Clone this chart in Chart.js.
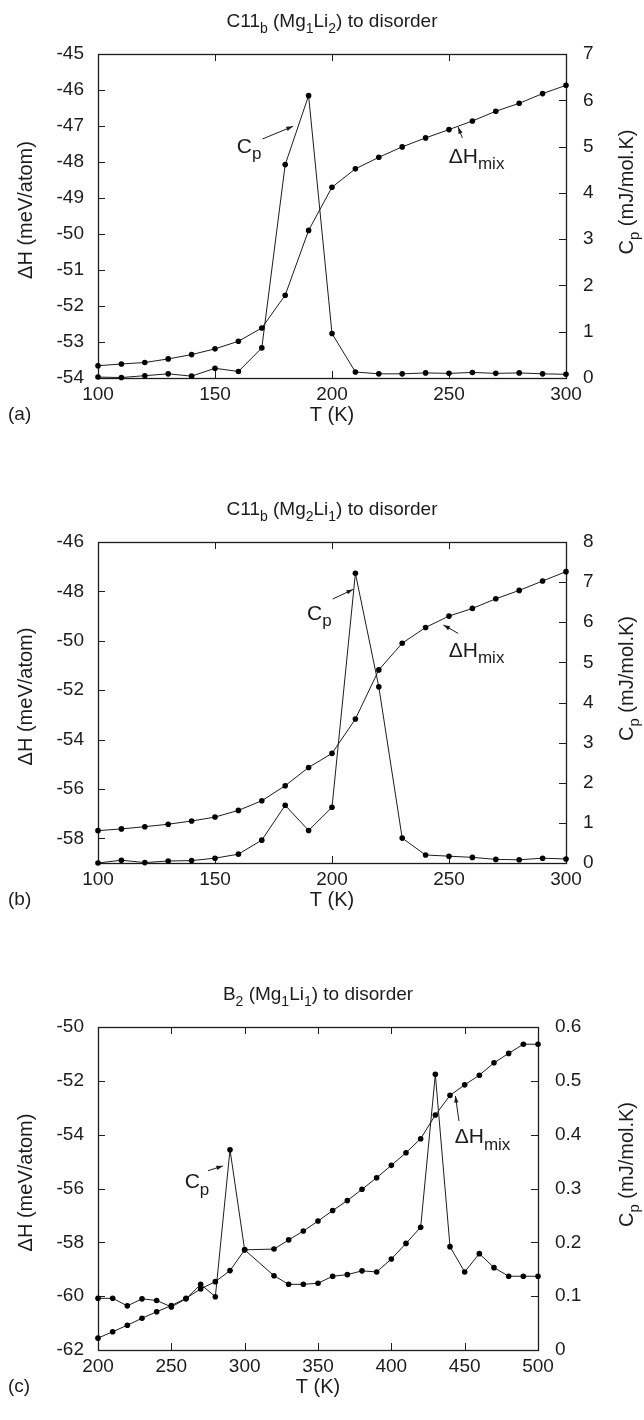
<!DOCTYPE html>
<html><head><meta charset="utf-8">
<script src="https://cdn.jsdelivr.net/npm/chart.js@4.4.0/dist/chart.umd.min.js"></script>
<style>
html,body{margin:0;padding:0;background:#fff;}
canvas{display:block;}
</style></head><body>
<canvas id="ca" width="644" height="470" style="width:644px;height:470px"></canvas>
<canvas id="cb" width="644" height="485" style="width:644px;height:485px"></canvas>
<canvas id="cc" width="644" height="465" style="width:644px;height:465px"></canvas>
<script>
// ---------- Panel (a): C11b (Mg1Li2) ----------
const tempA = [100,110,120,130,140,150,160,170,180,190,200,210,220,230,240,250,260,270,280,290,300];
const dHA = [-53.66,-53.61,-53.57,-53.47,-53.35,-53.19,-52.98,-52.61,-51.70,-49.90,-48.70,-48.19,-47.87,-47.58,-47.33,-47.10,-46.86,-46.59,-46.37,-46.10,-45.87];
const cpA = [0.02,0.01,0.05,0.09,0.04,0.21,0.14,0.65,4.61,6.10,0.96,0.13,0.09,0.09,0.11,0.10,0.12,0.10,0.11,0.09,0.08];
const xTicksA = [100,150,200,250,300];
const leftTicksA = [-54,-53,-52,-51,-50,-49,-48,-47,-46,-45];
const rightTicksA = [0,1,2,3,4,5,6,7];

// ---------- Panel (b): C11b (Mg2Li1) ----------
const tempB = [100,110,120,130,140,150,160,170,180,190,200,210,220,230,240,250,260,270,280,290,300];
const dHB = [-57.69,-57.62,-57.53,-57.43,-57.30,-57.14,-56.87,-56.48,-55.87,-55.13,-54.56,-53.17,-51.18,-50.10,-49.46,-49.00,-48.69,-48.30,-47.96,-47.58,-47.20];
const cpB = [0.00,0.07,0.01,0.05,0.06,0.12,0.22,0.57,1.44,0.81,1.39,7.22,4.39,0.62,0.20,0.17,0.14,0.09,0.08,0.12,0.10];
const xTicksB = [100,150,200,250,300];
const leftTicksB = [-58,-56,-54,-52,-50,-48,-46];
const rightTicksB = [0,1,2,3,4,5,6,7,8];

// ---------- Panel (c): B2 (Mg1Li1) ----------
const tempC = [200,210,220,230,240,250,260,270,280,290,300,320,330,340,350,360,370,380,390,400,410,420,430,440,450,460,470,480,490,500];
const dHC = [-61.56,-61.32,-61.08,-60.82,-60.58,-60.35,-60.08,-59.73,-59.46,-59.05,-58.28,-58.25,-57.91,-57.58,-57.21,-56.82,-56.45,-56.03,-55.60,-55.14,-54.67,-54.15,-53.27,-52.54,-52.15,-51.79,-51.33,-50.98,-50.64,-50.64];
const cpC = [0.096,0.096,0.082,0.095,0.092,0.080,0.095,0.122,0.099,0.372,0.186,0.138,0.122,0.122,0.124,0.137,0.140,0.147,0.145,0.169,0.198,0.228,0.512,0.192,0.145,0.179,0.153,0.137,0.137,0.137];
const xTicksC = [200,250,300,350,400,450,500];
const leftTicksC = [-62,-60,-58,-56,-54,-52,-50];
const rightTicksC = [0,0.1,0.2,0.3,0.4,0.5,0.6];

const FONT = '"Liberation Sans", Arial, Helvetica, sans-serif';
const INK = '#1c1c1c';
const FS = 19;      // tick labels and titles
const FA = 20;      // axis titles
const FN = 21;      // curve annotations

function drawRich(ctx, parts, x, y, size, align, ratio) {
  const r = ratio || 0.74;
  const subSize = Math.round(size * r);
  const widths = parts.map(([t, sub]) => { ctx.font = (sub ? subSize : size) + 'px ' + FONT; return ctx.measureText(t).width; });
  const w = widths.reduce((a, b) => a + b, 0);
  let cx = align === 'center' ? x - w / 2 : (align === 'right' ? x - w : x);
  ctx.textAlign = 'left'; ctx.textBaseline = 'alphabetic';
  parts.forEach(([t, sub], i) => {
    ctx.font = (sub ? subSize : size) + 'px ' + FONT;
    ctx.fillText(t, cx, sub ? y + size * 0.3 : y);
    cx += widths[i];
  });
}

function arrow(ctx, x1, y1, x2, y2) {
  ctx.beginPath(); ctx.moveTo(x1, y1); ctx.lineTo(x2, y2); ctx.stroke();
  const a = Math.atan2(y2 - y1, x2 - x1), L = 7, w = 0.32;
  ctx.beginPath();
  ctx.moveTo(x2, y2);
  ctx.lineTo(x2 - L * Math.cos(a - w), y2 - L * Math.sin(a - w));
  ctx.lineTo(x2 - L * Math.cos(a + w), y2 - L * Math.sin(a + w));
  ctx.closePath(); ctx.fill();
}

const decor = {
  id: 'decor',
  beforeDatasetsDraw(chart) {
    const { ctx, chartArea: ca, scales } = chart;
    const tl = 7;
    ctx.save();
    ctx.strokeStyle = INK; ctx.lineWidth = 1;
    ctx.beginPath();
    scales.x.ticks.forEach(t => {
      const px = Math.round(scales.x.getPixelForValue(t.value)) + 0.5;
      ctx.moveTo(px, ca.bottom); ctx.lineTo(px, ca.bottom - tl);
      ctx.moveTo(px, ca.top); ctx.lineTo(px, ca.top + tl);
    });
    scales.y.ticks.forEach(t => {
      const py = Math.round(scales.y.getPixelForValue(t.value)) + 0.5;
      ctx.moveTo(ca.left, py); ctx.lineTo(ca.left + tl, py);
    });
    scales.y1.ticks.forEach(t => {
      const py = Math.round(scales.y1.getPixelForValue(t.value)) + 0.5;
      ctx.moveTo(ca.right, py); ctx.lineTo(ca.right - tl, py);
    });
    ctx.stroke();
    ctx.lineWidth = 1.3;
    ctx.strokeRect(Math.round(ca.left) + 0.5, Math.round(ca.top) + 0.5, Math.round(ca.right - ca.left), Math.round(ca.bottom - ca.top));
    ctx.restore();
  },
  afterDraw(chart, args, o) {
    const { ctx, chartArea: ca, scales } = chart;
    const X = v => scales.x.getPixelForValue(v), Y = v => scales.y.getPixelForValue(v);
    ctx.save();
    ctx.fillStyle = INK; ctx.strokeStyle = INK; ctx.lineWidth = 1;
    const cx = (ca.left + ca.right) / 2, cy = (ca.top + ca.bottom) / 2;
    drawRich(ctx, o.title, cx, ca.top - 27, FS, 'center');
    drawRich(ctx, [['T (K)', 0]], cx, ca.bottom + 43, FA, 'center');
    drawRich(ctx, [[o.panel, 0]], 8, ca.bottom + 42, FS, 'left');
    ctx.save(); ctx.translate(25, cy - 6); ctx.rotate(-Math.PI / 2);
    drawRich(ctx, [['\u0394H (meV/atom)', 0]], 0, 7, FA, 'center'); ctx.restore();
    ctx.save(); ctx.translate(626, cy - 24); ctx.rotate(-Math.PI / 2);
    drawRich(ctx, [['C', 0], ['p', 1], [' (mJ/mol.K)', 0]], 0, 7, FA, 'center'); ctx.restore();
    // annotations
    const n = o.notes;
    drawRich(ctx, [['C', 0], ['p', 1]], X(n.cp[0]), Y(n.cp[1]), FN, 'left', 0.8);
    arrow(ctx, X(n.cpArrow[0]), Y(n.cpArrow[1]), X(n.cpArrow[2]), Y(n.cpArrow[3]));
    drawRich(ctx, [['\u0394H', 0], ['mix', 1]], X(n.dh[0]), Y(n.dh[1]), FN, 'left', 0.8);
    arrow(ctx, X(n.dhArrow[0]), Y(n.dhArrow[1]), X(n.dhArrow[2]), Y(n.dhArrow[3]));
    ctx.restore();
  }
};

function makePanel(id, temps, dH, cp, xTicks, lTicks, rTicks, geom, deco) {
  const ds = (vals, axis) => ({
    data: temps.map((t, i) => ({ x: t, y: vals[i] })),
    yAxisID: axis,
    borderColor: INK, borderWidth: 1,
    pointRadius: 2.8, pointBackgroundColor: '#000', pointBorderWidth: 0, pointHoverRadius: 2.8,
    tension: 0, fill: false, clip: false
  });
  const tickFont = { family: FONT, size: FS };
  const setTicks = arr => s => { s.ticks = arr.map(v => ({ value: v })); };
  new Chart(document.getElementById(id), {
    type: 'line',
    data: { datasets: [ds(dH, 'y'), ds(cp, 'y1')] },
    plugins: [decor],
    options: {
      responsive: false, animation: false, devicePixelRatio: 1,
      layout: { padding: { top: geom.top, left: 0, right: 0, bottom: 0 } },
      plugins: { legend: { display: false }, tooltip: { enabled: false }, decor: deco },
      scales: {
        x: {
          type: 'linear', min: xTicks[0], max: xTicks[xTicks.length - 1],
          afterBuildTicks: setTicks(xTicks),
          afterFit: s => { s.height = geom.xh; },
          grid: { display: false, drawTicks: false }, border: { display: false },
          ticks: { font: tickFont, color: INK, padding: 5, maxRotation: 0, autoSkip: false }
        },
        y: {
          position: 'left', min: geom.lmin, max: geom.lmax,
          afterBuildTicks: setTicks(lTicks),
          afterFit: s => { s.width = geom.lw; },
          grid: { display: false, drawTicks: false }, border: { display: false },
          ticks: { font: tickFont, color: INK, padding: 14, autoSkip: false }
        },
        y1: {
          position: 'right', min: geom.rmin, max: geom.rmax,
          afterBuildTicks: setTicks(rTicks),
          afterFit: s => { s.width = geom.rw; },
          grid: { display: false, drawTicks: false }, border: { display: false },
          ticks: { font: tickFont, color: INK, padding: 17, autoSkip: false }
        }
      }
    }
  });
}

makePanel('ca', tempA, dHA, cpA, xTicksA, leftTicksA, rightTicksA,
  { top: 54, xh: 92, lw: 98, rw: 78, lmin: -54, lmax: -45, rmin: 0, rmax: 7 },
  { title: [['C11', 0], ['b', 1], [' (Mg', 0], ['1', 1], ['Li', 0], ['2', 1], [') to disorder', 0]], panel: '(a)',
    notes: { cp: [159.3, -47.75], cpArrow: [170.3, -47.36, 183.3, -47.01], dh: [249.9, -48.02], dhArrow: [255.7, -47.33, 253.9, -47.03] } });

makePanel('cb', tempB, dHB, cpB, xTicksB, leftTicksB, rightTicksB,
  { top: 72, xh: 92, lw: 98, rw: 78, lmin: -59, lmax: -46, rmin: 0, rmax: 8 },
  { title: [['C11', 0], ['b', 1], [' (Mg', 0], ['2', 1], ['Li', 0], ['1', 1], [') to disorder', 0]], panel: '(b)',
    notes: { cp: [189.3, -49.16], cpArrow: [200.3, -48.31, 209.0, -47.92], dh: [249.9, -50.65], dhArrow: [253.9, -49.70, 247.6, -49.36] } });

makePanel('cc', tempC, dHC, cpC, xTicksC, leftTicksC, rightTicksC,
  { top: 72, xh: 70, lw: 98, rw: 106, lmin: -62, lmax: -50, rmin: 0, rmax: 0.6 },
  { title: [['B', 0], ['2', 1], [' (Mg', 0], ['1', 1], ['Li', 0], ['1', 1], [') to disorder', 0]], panel: '(c)',
    notes: { cp: [259.1, -55.99], cpArrow: [275.0, -55.34, 285.2, -55.16], dh: [443.2, -54.32], dhArrow: [446.1, -53.49, 443.7, -52.56] } });
</script>
</body></html>
